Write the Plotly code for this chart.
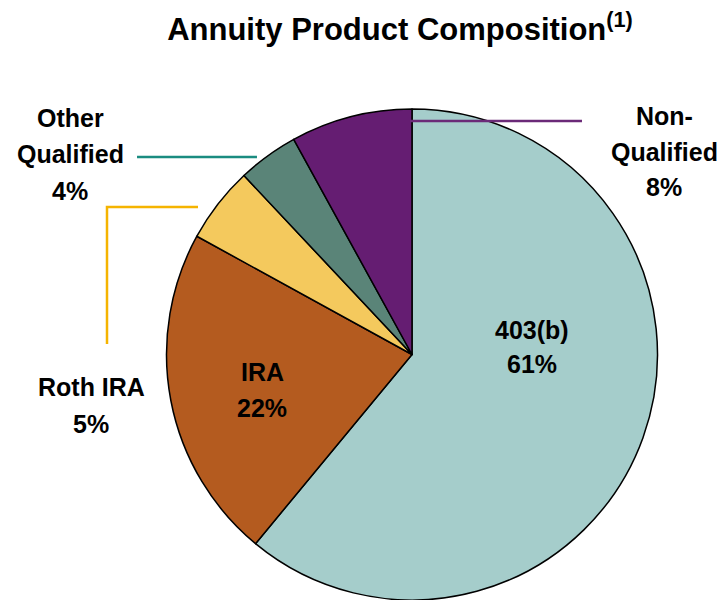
import plotly.graph_objects as go

# Data
labels = ["403(b)", "IRA", "Roth IRA", "Other Qualified", "Non-Qualified"]
values = [61, 22, 5, 4, 8]
colors = ["#A5CDCB", "#B45B1F", "#F4C95D", "#5A8478", "#651D72"]

# label lines shown for each slice
label_lines = [
    ["403(b)", "61%"],
    ["IRA", "22%"],
    ["Roth IRA", "5%"],
    ["Other", "Qualified", "4%"],
    ["Non-", "Qualified", "8%"],
]

W, H = 720, 592   # page has an 8px body margin
OFF = 8
FONT = "Liberation Sans, Arial, sans-serif"


def px(x, y):
    # page pixel position -> paper coords (margins are zero)
    return (x - OFF) / W, 1 - (y - OFF) / H


fig = go.Figure()

cx, cy, r = 412, 355, 246
x0, _ = px(cx - r, 0)
x1, _ = px(cx + r, 0)
_, y1 = px(0, cy - r)

fig.add_trace(go.Pie(
    labels=labels,
    values=values,
    sort=False,
    direction="clockwise",
    rotation=0,
    marker=dict(colors=colors, line=dict(color="black", width=1.5)),
    textinfo="none",
    hoverinfo="label+percent",
    showlegend=False,
    domain=dict(x=[x0, x1], y=[0, y1]),
))

# label placement (x centre, y centre of each line) in page pixels
label_pos = [
    (532, [330, 364]),
    (262, [372, 408]),
    (91, [387, 424]),
    (70, [118, 154, 191]),
    (664, [116, 152, 187]),
]
for lines, (x, ys) in zip(label_lines, label_pos):
    for txt, y in zip(lines, ys):
        ax, ay = px(x, y)
        fig.add_annotation(
            text=f"<b>{txt}</b>", x=ax, y=ay, xref="paper", yref="paper",
            showarrow=False, xanchor="center", yanchor="middle",
            font=dict(family=FONT, size=25, color="black"),
        )

# leader lines
leaders = [
    ([(137, 157), (257, 157)], "#1A8C80"),
    ([(107, 344), (107, 207), (198, 207)], "#F5B400"),
    ([(410, 121), (582, 121)], "#6B2A78"),
]
for pts, col in leaders:
    path = ""
    for i, (x, y) in enumerate(pts):
        X, Y = px(x, y)
        path += ("M" if i == 0 else " L") + f"{X:.4f},{Y:.4f}"
    fig.add_shape(type="path", path=path, xref="paper", yref="paper",
                  line=dict(color=col, width=2.5))

tx, ty = px(400, 29)
fig.update_layout(
    width=W, height=H,
    margin=dict(l=0, r=0, t=0, b=0),
    paper_bgcolor="white",
    plot_bgcolor="white",
    title=dict(
        text="<b>Annuity Product Composition<sup>(1)</sup></b>",
        x=tx, xanchor="center", y=ty, yanchor="middle",
        font=dict(family=FONT, size=31, color="black"),
    ),
)

fig.write_html("out.html")
